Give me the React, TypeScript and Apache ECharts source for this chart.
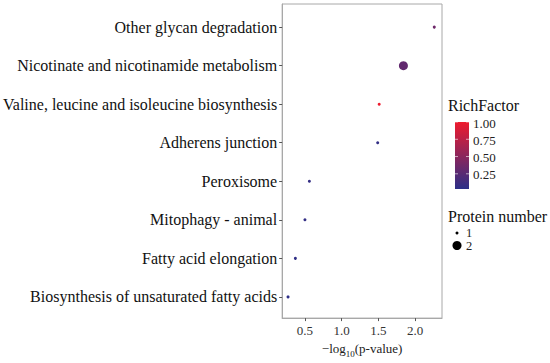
import React, { useEffect, useRef } from "react";
import * as echarts from "echarts";

// Categories from bottom to top
const categories = [
  "Biosynthesis of unsaturated fatty acids",
  "Fatty acid elongation",
  "Mitophagy - animal",
  "Peroxisome",
  "Adherens junction",
  "Valine, leucine and isoleucine biosynthesis",
  "Nicotinate and nicotinamide metabolism",
  "Other glycan degradation",
];
const negLogP = [0.27, 0.37, 0.5, 0.56, 1.49, 1.51, 1.84, 2.26];
const proteinNumbers = [1, 1, 1, 1, 1, 1, 2, 1];
const richFactors = [0.04, 0.05, 0.06, 0.07, 0.06, 1.0, 0.3, 0.36];
const xTicks = [0.5, 1.0, 1.5, 2.0];
const colorTicks = [0.25, 0.5, 0.75, 1.0];
const sizeTicks = [1, 2];

const LOW = "#2c2f88";
const HIGH = "#ee1b2e";
const FONT = "Liberation Serif";
const RF_MIN = 0.03;
const RF_MAX = 1.0;

const sizeOf = (n: number) => 3 + (n - 1) * 6;

export default function App() {
  const ref = useRef<HTMLDivElement>(null);
  useEffect(() => {
    if (!ref.current) return;
    const chart = echarts.init(ref.current, null, { renderer: "svg" });

    // colorbar geometry
    const barX = 455, barW = 14, barTop = 122, barBottom = 189;
    const yOf = (v: number) => barBottom - ((v - RF_MIN) / (RF_MAX - RF_MIN)) * (barBottom - barTop);

    const txt = (size: number) => ({ fontFamily: FONT, fontSize: size });

    const graphic: any[] = [
      {
        type: "text",
        x: 448,
        y: 105,
        style: { text: "RichFactor", ...txt(16), fill: "#111", verticalAlign: "middle" },
      },
      {
        type: "rect",
        shape: { x: barX, y: barTop, width: barW, height: barBottom - barTop },
        style: {
          fill: new echarts.graphic.LinearGradient(0, 1, 0, 0, [
            { offset: 0, color: LOW },
            { offset: 1, color: HIGH },
          ]),
        },
      },
    ];
    colorTicks.forEach((t) => {
      const y = yOf(t);
      graphic.push({
        type: "line",
        shape: { x1: barX, y1: y, x2: barX + 3, y2: y },
        style: { stroke: "rgba(255,255,255,0.6)", lineWidth: 1 },
      });
      graphic.push({
        type: "line",
        shape: { x1: barX + barW - 3, y1: y, x2: barX + barW, y2: y },
        style: { stroke: "rgba(255,255,255,0.6)", lineWidth: 1 },
      });
      graphic.push({
        type: "text",
        x: barX + barW + 4,
        y: y + 1,
        style: {
          text: t.toFixed(2),
          ...txt(13),
          fill: "#222",
          verticalAlign: "middle",
        },
      });
    });
    graphic.push({
      type: "text",
      x: 448,
      y: 216,
      style: { text: "Protein number", ...txt(16), fill: "#111", verticalAlign: "middle" },
    });
    sizeTicks.forEach((s, i) => {
      const cy = 233 + i * 12.5;
      graphic.push({
        type: "circle",
        shape: { cx: 457, cy, r: sizeOf(s) / 2 },
        style: { fill: "#000" },
      });
      graphic.push({
        type: "text",
        x: 466,
        y: cy,
        style: {
          text: String(s),
          ...txt(12.5),
          lineHeight: 11,
          fill: "#222",
          verticalAlign: "middle",
        },
      });
    });

    chart.setOption({
      animation: false,
      textStyle: { fontFamily: FONT },
      grid: {
        left: 281,
        right: 108,
        top: 4,
        bottom: 36,
        show: true,
        borderColor: "#a8a8a8",
        borderWidth: 1,
        containLabel: false,
      },
      visualMap: {
        show: false,
        type: "continuous",
        dimension: 2,
        min: RF_MIN,
        max: RF_MAX,
        seriesIndex: 0,
        inRange: { color: [LOW, HIGH] },
      },
      xAxis: {
        type: "value",
        min: 0.19,
        max: 2.365,
        splitLine: { show: false },
        axisLine: { show: true, onZero: false, lineStyle: { color: "#a8a8a8" } },
        axisTick: { show: true, customValues: xTicks, length: 3, lineStyle: { color: "#555" } },
        axisLabel: {
          customValues: xTicks,
          formatter: (v: number) => v.toFixed(1),
          fontFamily: FONT,
          fontSize: 13,
          color: "#333",
          margin: 6,
        },
        name: "{a|−log}{b|10}{a|(p-value)}",
        nameLocation: "middle",
        nameGap: 20,
        nameTextStyle: {
          fontFamily: FONT,
          color: "#222",
          rich: {
            a: { fontFamily: FONT, fontSize: 13, color: "#222", lineHeight: 15, verticalAlign: "top" },
            b: { fontFamily: FONT, fontSize: 9, color: "#222", lineHeight: 15, verticalAlign: "top", padding: [7, 0, 0, 0] },
          },
        },
      },
      yAxis: {
        type: "value",
        min: 0.45,
        max: 8.6,
        splitLine: { show: false },
        axisLine: { show: true, onZero: false, lineStyle: { color: "#a8a8a8" } },
        axisTick: {
          show: true,
          customValues: categories.map((_, i) => i + 1),
          length: 3,
          lineStyle: { color: "#555" },
        },
        axisLabel: {
          customValues: categories.map((_, i) => i + 1),
          formatter: (v: number) => categories[Math.round(v) - 1] ?? "",
          fontFamily: FONT,
          fontSize: 16,
          color: "#111",
          margin: 5,
        },
      },
      series: [
        {
          type: "scatter",
          data: categories.map((c, i) => [negLogP[i], i + 1, richFactors[i], proteinNumbers[i], c]),
          symbolSize: (v: number[]) => sizeOf(v[3]),
          itemStyle: { opacity: 1 },
        },
      ],
      graphic,
    });
    return () => chart.dispose();
  }, []);
  return (
    <div
      ref={ref}
      style={{ position: "absolute", left: 0, top: 0, width: 550, height: 363, background: "#fff" }}
    />
  );
}
